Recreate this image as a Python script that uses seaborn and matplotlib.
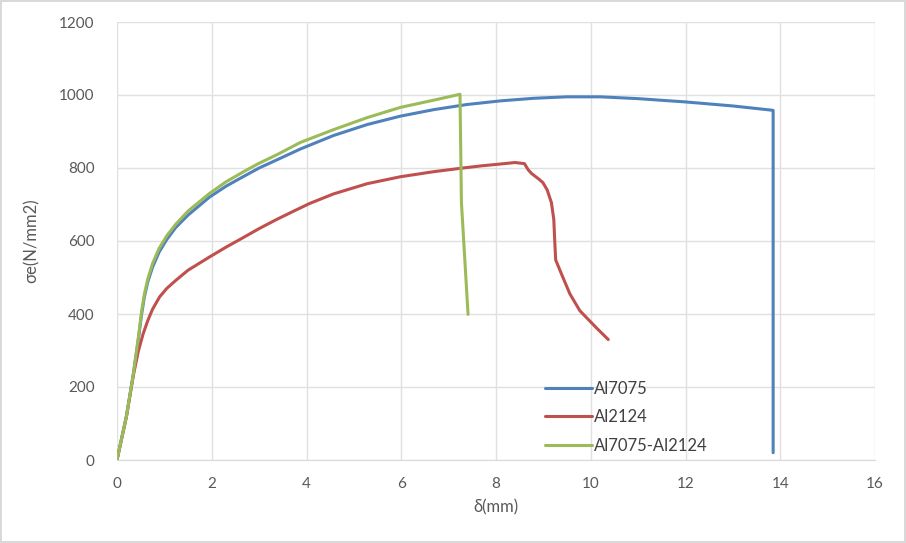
import numpy as np
import pandas as pd
import matplotlib
matplotlib.use('Agg')
import matplotlib.pyplot as plt
import seaborn as sns

# Al7075 curve
x_7075 = [0, 0.2, 0.35, 0.45, 0.52, 0.58, 0.65, 0.75, 0.89, 1.05, 1.24, 1.5, 1.95,
          2.3, 2.66, 3.0, 3.37, 3.87, 4.57, 5.28, 5.98, 6.69, 7.39, 8.10, 8.8,
          9.5, 10.2, 11.0, 12.0, 13.0, 13.85, 13.85]
y_7075 = [0, 120, 240, 330, 400, 448, 488, 528, 570, 604, 637, 671, 720,
          750, 776, 800, 822, 852, 889, 919, 942, 960, 974, 984, 991,
          995, 995, 990, 981, 970, 958, 20]

# Al2124 curve
x_2124 = [0, 0.2, 0.35, 0.45, 0.55, 0.65, 0.75, 0.9, 1.05, 1.24, 1.5, 1.95, 2.3,
          2.66, 3.0, 3.37, 3.7, 4.07, 4.57, 5.28, 5.98, 6.69, 7.24, 7.7, 8.1,
          8.4, 8.6, 8.68, 8.75, 8.9, 8.99, 9.08, 9.17, 9.22, 9.24, 9.26, 9.41,
          9.56, 9.77, 10.12, 10.37]
y_2124 = [0, 120, 235, 298, 345, 382, 413, 447, 470, 492, 520, 556, 583,
          609, 634, 659, 680, 703, 729, 757, 776, 790, 799, 806, 811,
          815, 812, 795, 785, 770, 760, 740, 705, 659, 600, 548, 501,
          455, 409, 362, 330]

# Al7075-Al2124 curve
x_mix = [0, 0.2, 0.35, 0.45, 0.52, 0.58, 0.65, 0.75, 0.89, 1.05, 1.24, 1.5, 1.95,
         2.3, 2.66, 3.0, 3.37, 3.87, 4.57, 5.28, 5.98, 6.69, 7.24, 7.27, 7.41]
y_mix = [0, 120, 240, 335, 408, 456, 496, 538, 580, 614, 646, 682, 730,
         762, 789, 813, 836, 870, 905, 938, 966, 986, 1002, 706, 399]

names = ['Al7075', 'Al2124', 'Al7075-Al2124']
colors = ['#4F81BD', '#C0504D', '#9BBB59']

x_ticks = [0, 2, 4, 6, 8, 10, 12, 14, 16]
y_ticks = [0, 200, 400, 600, 800, 1000, 1200]

frames = []
for name, xs, ys in zip(names, [x_7075, x_2124, x_mix], [y_7075, y_2124, y_mix]):
    d = pd.DataFrame({'d': xs, 's': ys})
    d['alloy'] = name
    frames.append(d)
df = pd.concat(frames, ignore_index=True)

sns.set_style('white')
plt.rcParams['font.family'] = ['Lato', 'DejaVu Sans']

fig = plt.figure(figsize=(9.06, 5.43), dpi=100, edgecolor='#D9D9D9', linewidth=1.5)
ax = fig.add_axes([117 / 906, (543 - 460) / 543, (875 - 117) / 906, (460 - 22) / 543])

sns.lineplot(data=df, x='d', y='s', hue='alloy', palette=dict(zip(names, colors)),
             sort=False, estimator=None, units='alloy', linewidth=2.2, ax=ax)

ax.set_xlim(0, 16)
ax.set_ylim(0, 1200)
ax.set_xticks(x_ticks)
ax.set_yticks(y_ticks)
ax.grid(True, color='#E0E0E0', linewidth=1)
for side in ['top', 'right', 'left']:
    ax.spines[side].set_visible(False)
ax.spines['bottom'].set_color('#D9D9D9')
ax.tick_params(axis='both', length=0, labelsize=11, labelcolor='#595959')
ax.tick_params(axis='x', pad=12)
ax.tick_params(axis='y', pad=16)

ax.set_xlabel('δ(mm)', fontsize=12, color='#595959', labelpad=6)
ax.set_ylabel('σe(N/mm2)', fontsize=12, color='#595959', labelpad=14)

leg = ax.legend(loc='lower left', bbox_to_anchor=(0.545, -0.02), frameon=False,
                fontsize=12, handlelength=2.8, handletextpad=0.15, labelspacing=0.75,
                labelcolor='#404040')

fig.savefig('out.png', dpi=100)
